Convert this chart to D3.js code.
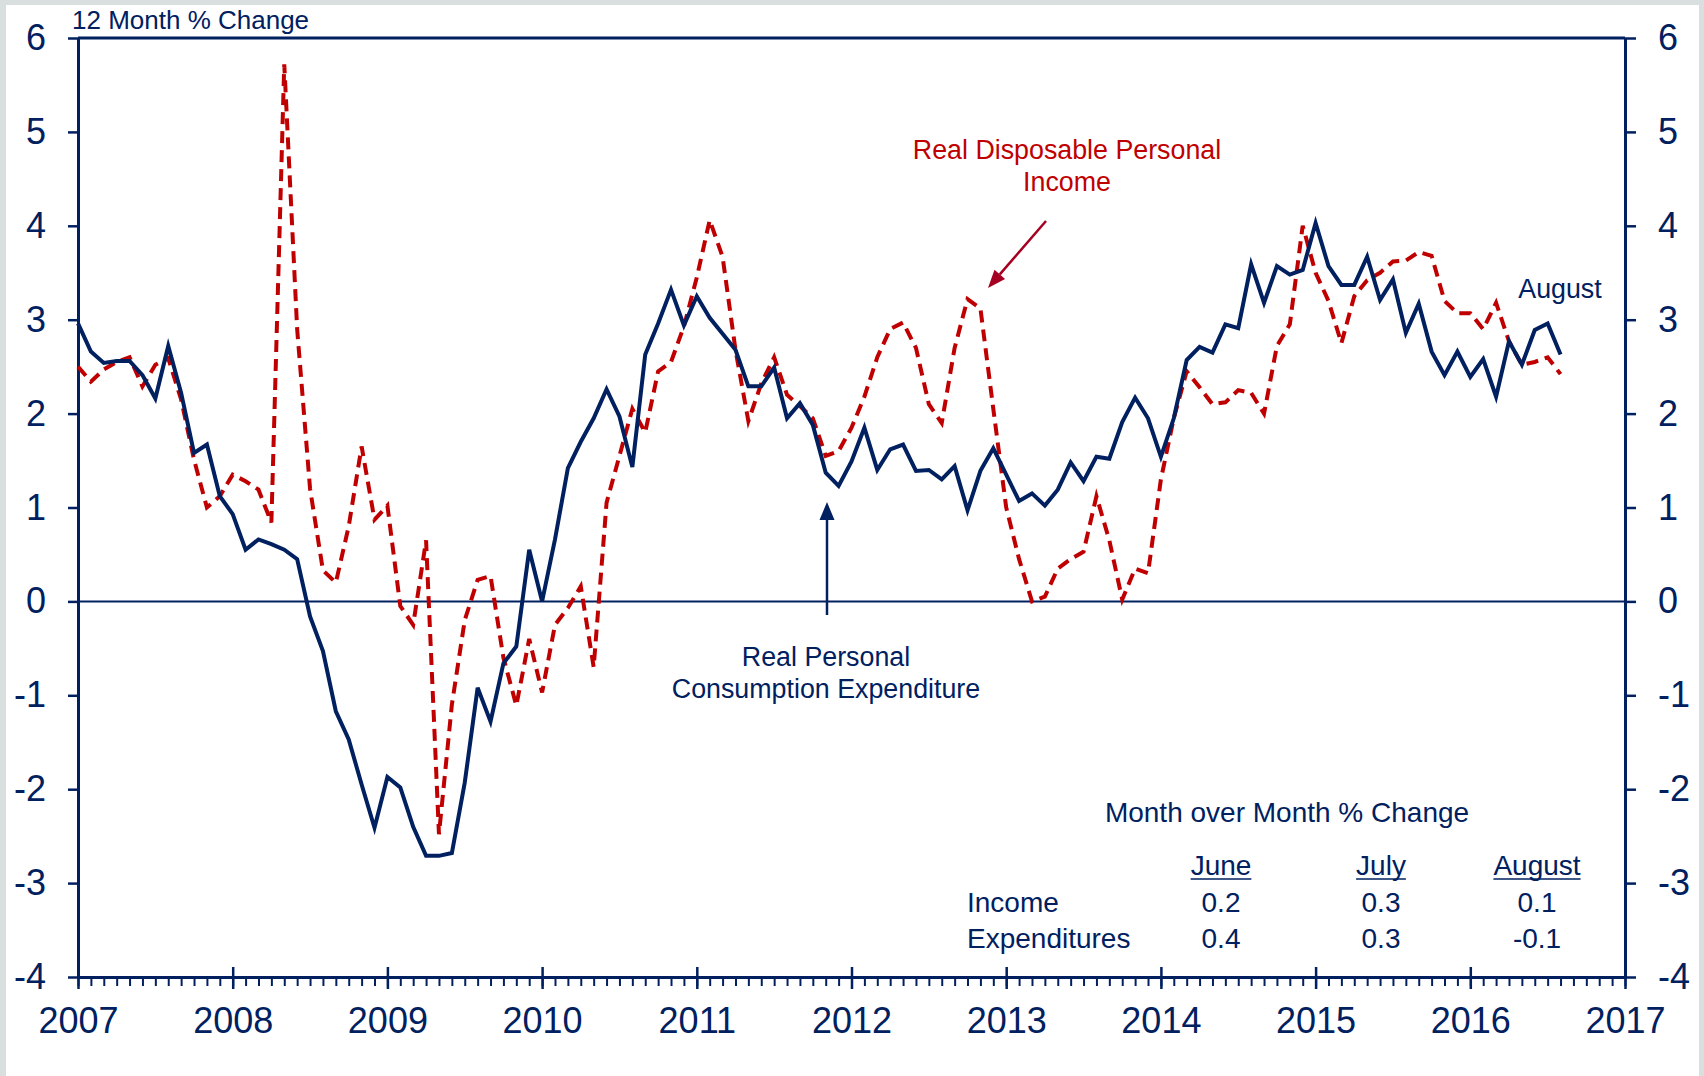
<!DOCTYPE html>
<html>
<head>
<meta charset="utf-8">
<script src="https://cdn.jsdelivr.net/npm/d3@7/dist/d3.min.js"></script>
<style>
  body { margin:0; background:#d9dede; }
  text { font-family: "Liberation Sans", Arial, sans-serif; }
</style>
</head>
<body>
<script>
// x axis: one point per month, Jan 2007 = 0
const yearLabels = ["2007","2008","2009","2010","2011","2012","2013","2014","2015","2016","2017"];
const yTickValues = [-4,-3,-2,-1,0,1,2,3,4,5,6];

// Real Personal Consumption Expenditure, 12 month % change, Jan 2007 - Aug 2016
const pce = [
  2.96,2.66,2.54,2.56,2.56,2.41,2.16,2.72,2.22,1.58,1.67,1.12,
  0.93,0.55,0.66,0.61,0.55,0.45,-0.16,-0.53,-1.17,-1.47,-1.95,-2.41,
  -1.87,-1.98,-2.40,-2.71,-2.71,-2.68,-1.93,-0.92,-1.28,-0.66,-0.48,0.55,
  0.00,0.66,1.42,1.70,1.95,2.26,1.97,1.43,2.63,2.96,3.32,2.94,
  3.25,3.02,2.85,2.68,2.29,2.29,2.49,1.95,2.11,1.88,1.37,1.23,
  1.49,1.85,1.40,1.62,1.67,1.39,1.40,1.30,1.44,0.97,1.39,1.63,
  1.35,1.07,1.15,1.02,1.19,1.48,1.28,1.54,1.52,1.91,2.17,1.95,
  1.54,1.95,2.57,2.71,2.65,2.95,2.91,3.59,3.18,3.57,3.48,3.53,
  4.03,3.57,3.37,3.37,3.67,3.21,3.43,2.86,3.17,2.66,2.41,2.66,
  2.39,2.58,2.18,2.77,2.52,2.89,2.96,2.63
];

// Real Disposable Personal Income, 12 month % change, Jan 2007 - Aug 2016
const rdpi = [
  2.50,2.34,2.47,2.55,2.60,2.29,2.52,2.59,2.15,1.51,1.00,1.12,
  1.35,1.28,1.19,0.84,5.72,2.90,1.20,0.33,0.20,0.80,1.65,0.87,
  1.02,-0.05,-0.25,0.65,-2.48,-1.10,-0.20,0.23,0.27,-0.60,-1.11,-0.40,
  -0.97,-0.25,-0.07,0.16,-0.70,1.05,1.55,2.05,1.80,2.45,2.55,2.93,
  3.45,4.06,3.67,2.68,1.92,2.32,2.60,2.20,2.08,1.95,1.55,1.60,
  1.85,2.18,2.60,2.90,2.97,2.70,2.10,1.90,2.70,3.22,3.12,2.05,
  1.00,0.45,0.00,0.05,0.35,0.45,0.53,1.12,0.65,0.02,0.35,0.30,
  1.30,1.95,2.45,2.28,2.10,2.12,2.25,2.22,2.00,2.72,2.95,4.00,
  3.50,3.20,2.75,3.25,3.42,3.50,3.62,3.63,3.72,3.68,3.20,3.07,
  3.07,2.90,3.18,2.77,2.52,2.55,2.60,2.42
];

// month over month table
const tableMonths = ["June","July","August"];
const tableRows = ["Income","Expenditures"];
const incomeMoM = [0.2,0.3,0.1];
const expendMoM = [0.4,0.3,-0.1];

const W = 1704, H = 1076;
const navy = "#002060", red = "#C00000", arrowRed = "#A50021";
const plot = {left:78, right:1625, top:38, bottom:977};
const hyphen = v => String(v).replace("\u2212", "-");

const svg = d3.select("body").append("svg")
    .attr("width", W).attr("height", H);

// light frame + white panel
svg.append("rect").attr("width", W).attr("height", H).attr("fill", "#d9dede");
svg.append("rect").attr("x", 6).attr("y", 5).attr("width", 1693).attr("height", H - 5).attr("fill", "#fff");

const x = d3.scaleLinear().domain([0, 120]).range([plot.left, plot.right]);
const y = d3.scaleLinear().domain([-4, 6]).range([plot.bottom, plot.top]);

// zero line
svg.append("line")
   .attr("x1", plot.left).attr("x2", plot.right)
   .attr("y1", y(0)).attr("y2", y(0))
   .attr("stroke", navy).attr("stroke-width", 2);

// top border
svg.append("line")
   .attr("x1", plot.left).attr("x2", plot.right)
   .attr("y1", plot.top).attr("y2", plot.top)
   .attr("stroke", navy).attr("stroke-width", 3);

// left and right value axes
const gLeft = svg.append("g").attr("transform", `translate(${plot.left},0)`)
   .call(d3.axisLeft(y).tickValues(yTickValues).tickSize(10).tickSizeOuter(0).tickPadding(22).tickFormat(d => hyphen(d)));
const gRight = svg.append("g").attr("transform", `translate(${plot.right},0)`)
   .call(d3.axisRight(y).tickValues(yTickValues).tickSize(11).tickSizeOuter(0).tickPadding(22).tickFormat(d => hyphen(d)));
[gLeft, gRight].forEach(g => {
  g.selectAll("path").attr("stroke", navy).attr("stroke-width", 3);
  g.selectAll("line").attr("stroke", navy).attr("stroke-width", 2.5);
  g.selectAll("text").attr("fill", navy).attr("font-size", 36);
});

// bottom axis: monthly minor ticks
const gMinor = svg.append("g").attr("transform", `translate(0,${plot.bottom})`)
   .call(d3.axisBottom(x).tickValues(d3.range(0, 121)).tickSize(9).tickSizeOuter(0).tickFormat(""));
gMinor.selectAll("path").attr("stroke", navy).attr("stroke-width", 3);
gMinor.selectAll("line").attr("stroke", navy).attr("stroke-width", 2);

// bottom axis: years
const gYears = svg.append("g").attr("transform", `translate(0,${plot.bottom})`)
   .call(d3.axisBottom(x).tickValues(d3.range(0, 121, 12)).tickSize(12).tickSizeOuter(0).tickPadding(18)
         .tickFormat((d, i) => yearLabels[i]));
gYears.select("path").remove();
gYears.selectAll("line").attr("y1", -10).attr("stroke", navy).attr("stroke-width", 2.5);
gYears.selectAll("text").attr("fill", navy).attr("font-size", 36);

// lines
const line = d3.line().x((d, i) => x(i)).y(d => y(d));
svg.append("path").attr("d", line(rdpi))
   .attr("fill", "none").attr("stroke", red).attr("stroke-width", 4)
   .attr("stroke-dasharray", "12,7");
svg.append("path").attr("d", line(pce))
   .attr("fill", "none").attr("stroke", navy).attr("stroke-width", 4);

// text helper
function label(txt, px, py, opts = {}) {
  return svg.append("text").text(txt)
    .attr("x", px).attr("y", py)
    .attr("fill", opts.fill || navy)
    .attr("font-size", opts.size || 26.8)
    .attr("text-anchor", opts.anchor || "middle");
}

label("12 Month % Change", 72, 29, {size: 26, anchor: "start"});

// income annotation
label("Real Disposable Personal", 1067, 159, {fill: red});
label("Income", 1067, 191, {fill: red});
function arrow(x1, y1, x2, y2, color, width, headLen, headW) {
  const a = Math.atan2(y2 - y1, x2 - x1);
  const bx = x2 - headLen * Math.cos(a), by = y2 - headLen * Math.sin(a);
  svg.append("line").attr("x1", x1).attr("y1", y1).attr("x2", bx).attr("y2", by)
     .attr("stroke", color).attr("stroke-width", width);
  const px = -Math.sin(a) * headW / 2, py = Math.cos(a) * headW / 2;
  svg.append("path")
     .attr("d", `M${x2},${y2}L${bx + px},${by + py}L${bx - px},${by - py}Z`)
     .attr("fill", color);
}
arrow(1046, 221, 988, 288, arrowRed, 2.5, 18, 14);

// consumption annotation
arrow(827, 615, 827, 502, navy, 2.5, 18, 15);
label("Real Personal", 826, 666);
label("Consumption Expenditure", 826, 698);

label("August", 1560, 298);

// month over month table
label("Month over Month % Change", 1287, 822, {size: 28});
const colX = [1221, 1381, 1537];
tableMonths.forEach((m, i) => {
  const t = label(m, colX[i], 875, {size: 28});
  const w = t.node().getComputedTextLength();
  svg.append("line").attr("x1", colX[i] - w / 2).attr("x2", colX[i] + w / 2)
     .attr("y1", 879).attr("y2", 879).attr("stroke", navy).attr("stroke-width", 1.5);
});
const fmt = d3.format(".1f");
[incomeMoM, expendMoM].forEach((vals, r) => {
  const rowY = 912 + r * 36;
  label(tableRows[r], 967, rowY, {size: 28, anchor: "start"});
  vals.forEach((v, i) => label(hyphen(fmt(v)), colX[i], rowY, {size: 28}));
});
</script>
</body>
</html>
